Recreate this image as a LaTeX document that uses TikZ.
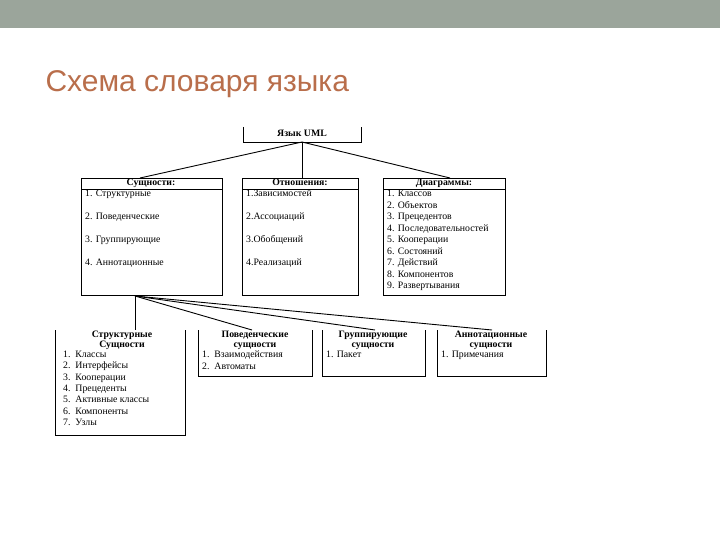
\documentclass[tikz,border=0pt]{standalone}
\usepackage{fontspec}
\setmainfont{Liberation Serif}
\newfontfamily\titlefont{Liberation Sans}
\definecolor{ttl}{RGB}{185,110,75}
\definecolor{band}{RGB}{155,165,155}
\begin{document}
\begin{tikzpicture}[x=1pt,y=-1pt,
  boxn/.style={inner sep=0pt,outer sep=0pt,anchor=north west},
  txt/.style={font=\fontsize{9.8}{11}\selectfont,align=left,anchor=north west,inner sep=0pt},
  hd/.style={font=\bfseries\fontsize{9.8}{10}\selectfont,align=center,anchor=north,inner sep=0pt},
  ln/.style={line width=0.9pt,black}]
\useasboundingbox (0,0) rectangle (720,540);
\fill[white] (0,0) rectangle (720,540);
\fill[band] (0,0) rectangle (720,28);
\node[anchor=west,text=ttl,font=\titlefont\fontsize{30}{32}\selectfont] (title) at (42,84) {Схема словаря языка};
% top box (open top)
\node[boxn,minimum width=118pt,minimum height=15pt] (uml) at (243,127) {};
\draw[ln] (uml.north west)--(uml.south west)--(uml.south east)--(uml.north east);
\node[hd] (umlt) at (302,130) {Язык UML};
% second row
\node[boxn,draw,ln,minimum width=141pt,minimum height=117pt] (ent) at (81,178) {};
\node[boxn,draw,ln,minimum width=116pt,minimum height=117pt] (rel) at (242,178) {};
\node[boxn,draw,ln,minimum width=122pt,minimum height=117pt] (dia) at (383,178) {};
\draw[ln] (81,189)--(222,189) (242,189)--(358,189) (383,189)--(505,189);
\node[hd] (entt) at (151,179) {Сущности:};
\node[hd] (relt) at (300,179) {Отношения:};
\node[hd] (diat) at (444,179) {Диаграммы:};
\node[txt] (entl) at (85,190) {1. Структурные\\[12pt]2. Поведенческие\\[12pt]3. Группирующие\\[12pt]4. Аннотационные};
\node[txt] (rell) at (246,190) {1.Зависимостей\\[12pt]2.Ассоциаций\\[12pt]3.Обобщений\\[12pt]4.Реализаций};
\node[txt,font=\fontsize{9.8}{11.5}\selectfont] (dial) at (387,190) {1. Классов\\2. Объектов\\3. Прецедентов\\4. Последовательностей\\5. Кооперации\\6. Состояний\\7. Действий\\8. Компонентов\\9. Развертывания};
\draw[ln] (uml.south) -- (ent.north -| 140,0);
\draw[ln] (uml.south) -- (rel.north -| uml.south);
\draw[ln] (uml.south) -- (dia.north -| 450,0);
% bottom row (open top)
\node[boxn,minimum width=130pt,minimum height=105pt] (s1) at (55,330) {};
\node[boxn,minimum width=114pt,minimum height=46pt] (s2) at (198,330) {};
\node[boxn,minimum width=103pt,minimum height=46pt] (s3) at (322,330) {};
\node[boxn,minimum width=109pt,minimum height=46pt] (s4) at (437,330) {};
\foreach \n in {s1,s2,s3,s4}{\draw[ln] (\n.north west)--(\n.south west)--(\n.south east)--(\n.north east);}
\node[hd] (s1t) at (122,331) {Структурные\\Сущности};
\node[hd] (s2t) at (255,331) {Поведенческие\\сущности};
\node[hd] (s3t) at (373,331) {Группирующие\\сущности};
\node[hd] (s4t) at (491,331) {Аннотационные\\сущности};
\node[txt,font=\fontsize{9.8}{11.3}\selectfont] (s1l) at (63,351) {1.\ \ Классы\\2.\ \ Интерфейсы\\3.\ \ Кооперации\\4.\ \ Прецеденты\\5.\ \ Активные классы\\6.\ \ Компоненты\\7.\ \ Узлы};
\node[txt,font=\fontsize{9.8}{11.3}\selectfont] (s2l) at (202,351) {1.\ \ Взаимодействия\\2.\ \ Автоматы};
\node[txt] (s3l) at (326,351) {1. Пакет};
\node[txt] (s4l) at (441,351) {1. Примечания};
\coordinate (src) at (135,296);
\draw[ln] (src) -- (135,330);
\draw[ln] (src) -- (252,330);
\draw[ln] (src) -- (375,330);
\draw[ln] (src) -- (492,330);
\end{tikzpicture}
\end{document}
